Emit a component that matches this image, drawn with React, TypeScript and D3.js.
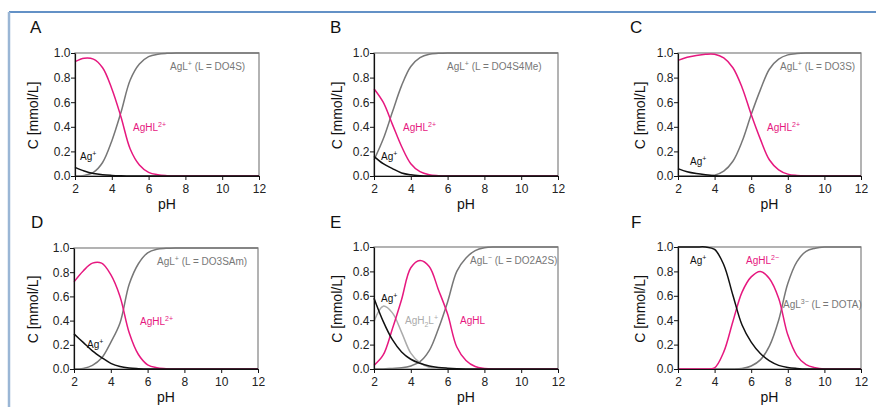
import { useRef, useEffect } from "react";
import * as d3 from "d3";

// pH grid the curves were read on
const pH = [2, 2.5, 3, 3.5, 4, 4.5, 5, 5.5, 6, 6.5, 7, 7.5, 8, 8.5, 9, 9.5, 10, 10.5, 11, 11.5, 12];
const xTicks = [2, 4, 6, 8, 10, 12];
const yTicks = [0, 0.2, 0.4, 0.6, 0.8, 1.0];

// A: DO4S
const agA = [0.07, 0.04, 0.02, 0.01, 0.005, 0.002, 0, 0, 0, 0, 0, 0, 0, 0, 0, 0, 0, 0, 0, 0, 0];
const aghlA = [0.93, 0.958, 0.95, 0.88, 0.71, 0.48, 0.22, 0.09, 0.03, 0.01, 0.003, 0, 0, 0, 0, 0, 0, 0, 0, 0, 0];
const aglA = [0, 0.005, 0.03, 0.11, 0.285, 0.518, 0.78, 0.91, 0.97, 0.99, 0.997, 1, 1, 1, 1, 1, 1, 1, 1, 1, 1];
// B: DO4S4Me
const agB = [0.16, 0.1, 0.06, 0.025, 0.01, 0.003, 0, 0, 0, 0, 0, 0, 0, 0, 0, 0, 0, 0, 0, 0, 0];
const aghlB = [0.71, 0.6, 0.42, 0.24, 0.1, 0.035, 0.01, 0.003, 0, 0, 0, 0, 0, 0, 0, 0, 0, 0, 0, 0, 0];
const aglB = [0.13, 0.3, 0.52, 0.735, 0.89, 0.962, 0.99, 0.997, 1, 1, 1, 1, 1, 1, 1, 1, 1, 1, 1, 1, 1];
// C: DO3S
const agC = [0.06, 0.035, 0.02, 0.01, 0.003, 0, 0, 0, 0, 0, 0, 0, 0, 0, 0, 0, 0, 0, 0, 0, 0];
const aghlC = [0.94, 0.965, 0.98, 0.99, 0.99, 0.96, 0.88, 0.72, 0.5, 0.3, 0.13, 0.05, 0.015, 0.004, 0, 0, 0, 0, 0, 0, 0];
const aglC = [0, 0, 0, 0, 0.007, 0.04, 0.12, 0.28, 0.5, 0.7, 0.87, 0.95, 0.985, 0.996, 1, 1, 1, 1, 1, 1, 1];
// D: DO3SAm
const agD = [0.29, 0.22, 0.15, 0.095, 0.047, 0.02, 0.008, 0.003, 0, 0, 0, 0, 0, 0, 0, 0, 0, 0, 0, 0, 0];
const aghlD = [0.72, 0.81, 0.875, 0.875, 0.78, 0.6, 0.3, 0.12, 0.035, 0.01, 0.003, 0, 0, 0, 0, 0, 0, 0, 0, 0, 0];
const aglD = [0, 0.005, 0.03, 0.09, 0.22, 0.38, 0.7, 0.87, 0.96, 0.99, 0.997, 1, 1, 1, 1, 1, 1, 1, 1, 1, 1];
// E: DO2A2S
const agE = [0.58, 0.39, 0.24, 0.14, 0.08, 0.047, 0.025, 0.013, 0.007, 0.003, 0.001, 0, 0, 0, 0, 0, 0, 0, 0, 0, 0];
const agh2lE = [0.39, 0.515, 0.46, 0.3, 0.13, 0.05, 0.015, 0.004, 0, 0, 0, 0, 0, 0, 0, 0, 0, 0, 0, 0, 0];
const aghlE = [0.03, 0.115, 0.33, 0.57, 0.83, 0.89, 0.84, 0.65, 0.45, 0.18, 0.07, 0.02, 0.005, 0, 0, 0, 0, 0, 0, 0, 0];
const aglE = [0, 0, 0.005, 0.01, 0.025, 0.06, 0.15, 0.33, 0.55, 0.8, 0.91, 0.97, 0.993, 1, 1, 1, 1, 1, 1, 1, 1];
// F: DOTA
const agF = [1, 1, 1, 1, 0.98, 0.855, 0.605, 0.36, 0.22, 0.127, 0.066, 0.03, 0.013, 0.005, 0, 0, 0, 0, 0, 0, 0];
const aghlF = [0, 0, 0, 0, 0.01, 0.14, 0.39, 0.63, 0.755, 0.8, 0.74, 0.58, 0.28, 0.11, 0.035, 0.01, 0, 0, 0, 0, 0];
const aglF = [0, 0, 0, 0, 0, 0, 0, 0.005, 0.025, 0.075, 0.19, 0.4, 0.7, 0.88, 0.965, 0.99, 1, 1, 1, 1, 1];

const PINK = "#e6187f";
const GRAY = "#777777";
const LIGHT = "#ababab";
const BLACK = "#111111";
const FONT = "'Liberation Sans', Arial, Helvetica, sans-serif";

type Part = [string, string?];
type Note = { x: number; y: number; c: string; parts: Part[] };

const panels = [
  {
    letter: "A", lx: 30, ly: 33, yLabX: 38, box: [75, 53, 259, 176],
    series: [{ v: aglA, c: GRAY }, { v: aghlA, c: PINK }, { v: agA, c: BLACK }],
    notes: [
      { x: 170, y: 70, c: GRAY, parts: [["AgL"], ["+", "sup"], [" (L = DO4S)"]] },
      { x: 133, y: 131, c: PINK, parts: [["AgHL"], ["2+", "sup"]] },
      { x: 80, y: 160, c: BLACK, parts: [["Ag"], ["+", "sup"]] },
    ] as Note[],
  },
  {
    letter: "B", lx: 330, ly: 33, yLabX: 342, box: [374, 53, 558, 176],
    series: [{ v: aglB, c: GRAY }, { v: aghlB, c: PINK }, { v: agB, c: BLACK }],
    notes: [
      { x: 447, y: 70, c: GRAY, parts: [["AgL"], ["+", "sup"], [" (L = DO4S4Me)"]] },
      { x: 403, y: 131, c: PINK, parts: [["AgHL"], ["2+", "sup"]] },
      { x: 381, y: 160, c: BLACK, parts: [["Ag"], ["+", "sup"]] },
    ] as Note[],
  },
  {
    letter: "C", lx: 630, ly: 33, yLabX: 645, box: [678, 53, 861, 176],
    series: [{ v: aglC, c: GRAY }, { v: aghlC, c: PINK }, { v: agC, c: BLACK }],
    notes: [
      { x: 780, y: 70, c: GRAY, parts: [["AgL"], ["+", "sup"], [" (L = DO3S)"]] },
      { x: 767, y: 131, c: PINK, parts: [["AgHL"], ["2+", "sup"]] },
      { x: 690, y: 165, c: BLACK, parts: [["Ag"], ["+", "sup"]] },
    ] as Note[],
  },
  {
    letter: "D", lx: 31, ly: 228, yLabX: 38, box: [74, 248, 258, 369],
    series: [{ v: aglD, c: GRAY }, { v: aghlD, c: PINK }, { v: agD, c: BLACK }],
    notes: [
      { x: 157, y: 265, c: GRAY, parts: [["AgL"], ["+", "sup"], [" (L = DO3SAm)"]] },
      { x: 140, y: 325, c: PINK, parts: [["AgHL"], ["2+", "sup"]] },
      { x: 87, y: 348, c: BLACK, parts: [["Ag"], ["+", "sup"]] },
    ] as Note[],
  },
  {
    letter: "E", lx: 330, ly: 228, yLabX: 342, box: [374, 247, 558, 369],
    series: [{ v: aglE, c: GRAY }, { v: agh2lE, c: LIGHT }, { v: aghlE, c: PINK }, { v: agE, c: BLACK }],
    notes: [
      { x: 470, y: 264, c: GRAY, parts: [["AgL"], ["\u2212", "sup"], [" (L = DO2A2S)"]] },
      { x: 381, y: 302, c: BLACK, parts: [["Ag"], ["+", "sup"]] },
      { x: 405, y: 324, c: LIGHT, parts: [["AgH"], ["2", "sub"], ["L"], ["+", "sup"]] },
      { x: 460, y: 324, c: PINK, parts: [["AgHL"]] },
    ] as Note[],
  },
  {
    letter: "F", lx: 631, ly: 228, yLabX: 645, box: [678, 247, 861, 369],
    series: [{ v: aglF, c: GRAY }, { v: aghlF, c: PINK }, { v: agF, c: BLACK }],
    notes: [
      { x: 690, y: 264, c: BLACK, parts: [["Ag"], ["+", "sup"]] },
      { x: 746, y: 264, c: PINK, parts: [["AgHL"], ["2\u2212", "sup"]] },
      { x: 783, y: 308, c: GRAY, parts: [["AgL"], ["3\u2212", "sup"], [" (L = DOTA)"]] },
    ] as Note[],
  },
];

export default function App() {
  const svgRef = useRef<SVGSVGElement>(null);

  useEffect(() => {
    const svg = d3.select(svgRef.current);
    svg.selectAll("*").remove();
    svg.append("rect").attr("width", 876).attr("height", 407).attr("fill", "#fff");

    // page frame
    svg.append("line").attr("x1", 9).attr("x2", 876).attr("y1", 12).attr("y2", 12)
      .attr("stroke", "#2f6db3").attr("stroke-width", 1.5);
    svg.append("line").attr("x1", 9).attr("x2", 9).attr("y1", 12).attr("y2", 407)
      .attr("stroke", "#9ab6d5").attr("stroke-width", 2.5);

    panels.forEach((p) => {
      const [l, t, r, b] = p.box;
      const x = d3.scaleLinear().domain([2, 12]).range([l, r]);
      const y = d3.scaleLinear().domain([0, 1]).range([b, t]);
      const g = svg.append("g");

      g.append("text").attr("x", p.lx).attr("y", p.ly).text(p.letter)
        .attr("font-family", FONT).attr("font-size", 17).attr("fill", "#111");

      g.append("rect").attr("x", l).attr("y", t).attr("width", r - l).attr("height", b - t)
        .attr("fill", "none").attr("stroke", "#8a8a8a").attr("stroke-width", 1.3);

      const line = d3.line<number>()
        .x((_, i) => x(pH[i]))
        .y((d) => y(d))
        .curve(d3.curveCatmullRom.alpha(0.5));

      p.series.forEach((s) => {
        g.append("path").attr("d", line(s.v)).attr("fill", "none")
          .attr("stroke", s.c).attr("stroke-width", 1.5);
      });

      const ax = g.append("g").attr("transform", `translate(0,${b})`)
        .call(d3.axisBottom(x).tickValues(xTicks).tickSize(4).tickSizeOuter(0).tickPadding(4.5));
      const ay = g.append("g").attr("transform", `translate(${l},0)`)
        .call(d3.axisLeft(y).tickValues(yTicks).tickFormat(d3.format(".1f")).tickSize(4).tickSizeOuter(0).tickPadding(0.5));
      [ax, ay].forEach((a) => {
        a.select(".domain").attr("stroke", "#111").attr("stroke-width", 1.2);
        a.selectAll(".tick line").attr("stroke", "#111").attr("stroke-width", 1);
        a.selectAll(".tick text").attr("font-family", FONT).attr("font-size", 12).attr("fill", "#222");
      });

      g.append("text").attr("x", (l + r) / 2).attr("y", b + 33).attr("text-anchor", "middle")
        .attr("font-family", FONT).attr("font-size", 14).attr("fill", "#111").text("pH");

      g.append("text").attr("transform", `translate(${p.yLabX},${(t + b) / 2 + 1}) rotate(-90)`)
        .attr("text-anchor", "middle").attr("font-family", FONT).attr("font-size", 14)
        .attr("fill", "#111").text("C [mmol/L]");

      p.notes.forEach((n) => {
        const txt = g.append("text").attr("x", n.x).attr("y", n.y)
          .attr("font-family", FONT).attr("font-size", 10).attr("fill", n.c);
        let shift = 0;
        n.parts.forEach(([s, kind]) => {
          const target = kind === "sup" ? -4 : kind === "sub" ? 2.5 : 0;
          txt.append("tspan").attr("dy", target - shift)
            .attr("font-size", kind ? 7 : 10).text(s);
          shift = target;
        });
      });
    });
  }, []);

  return (
    <div style={{ position: "absolute", left: 0, top: 0 }}>
      <svg ref={svgRef} width={876} height={407} />
    </div>
  );
}
